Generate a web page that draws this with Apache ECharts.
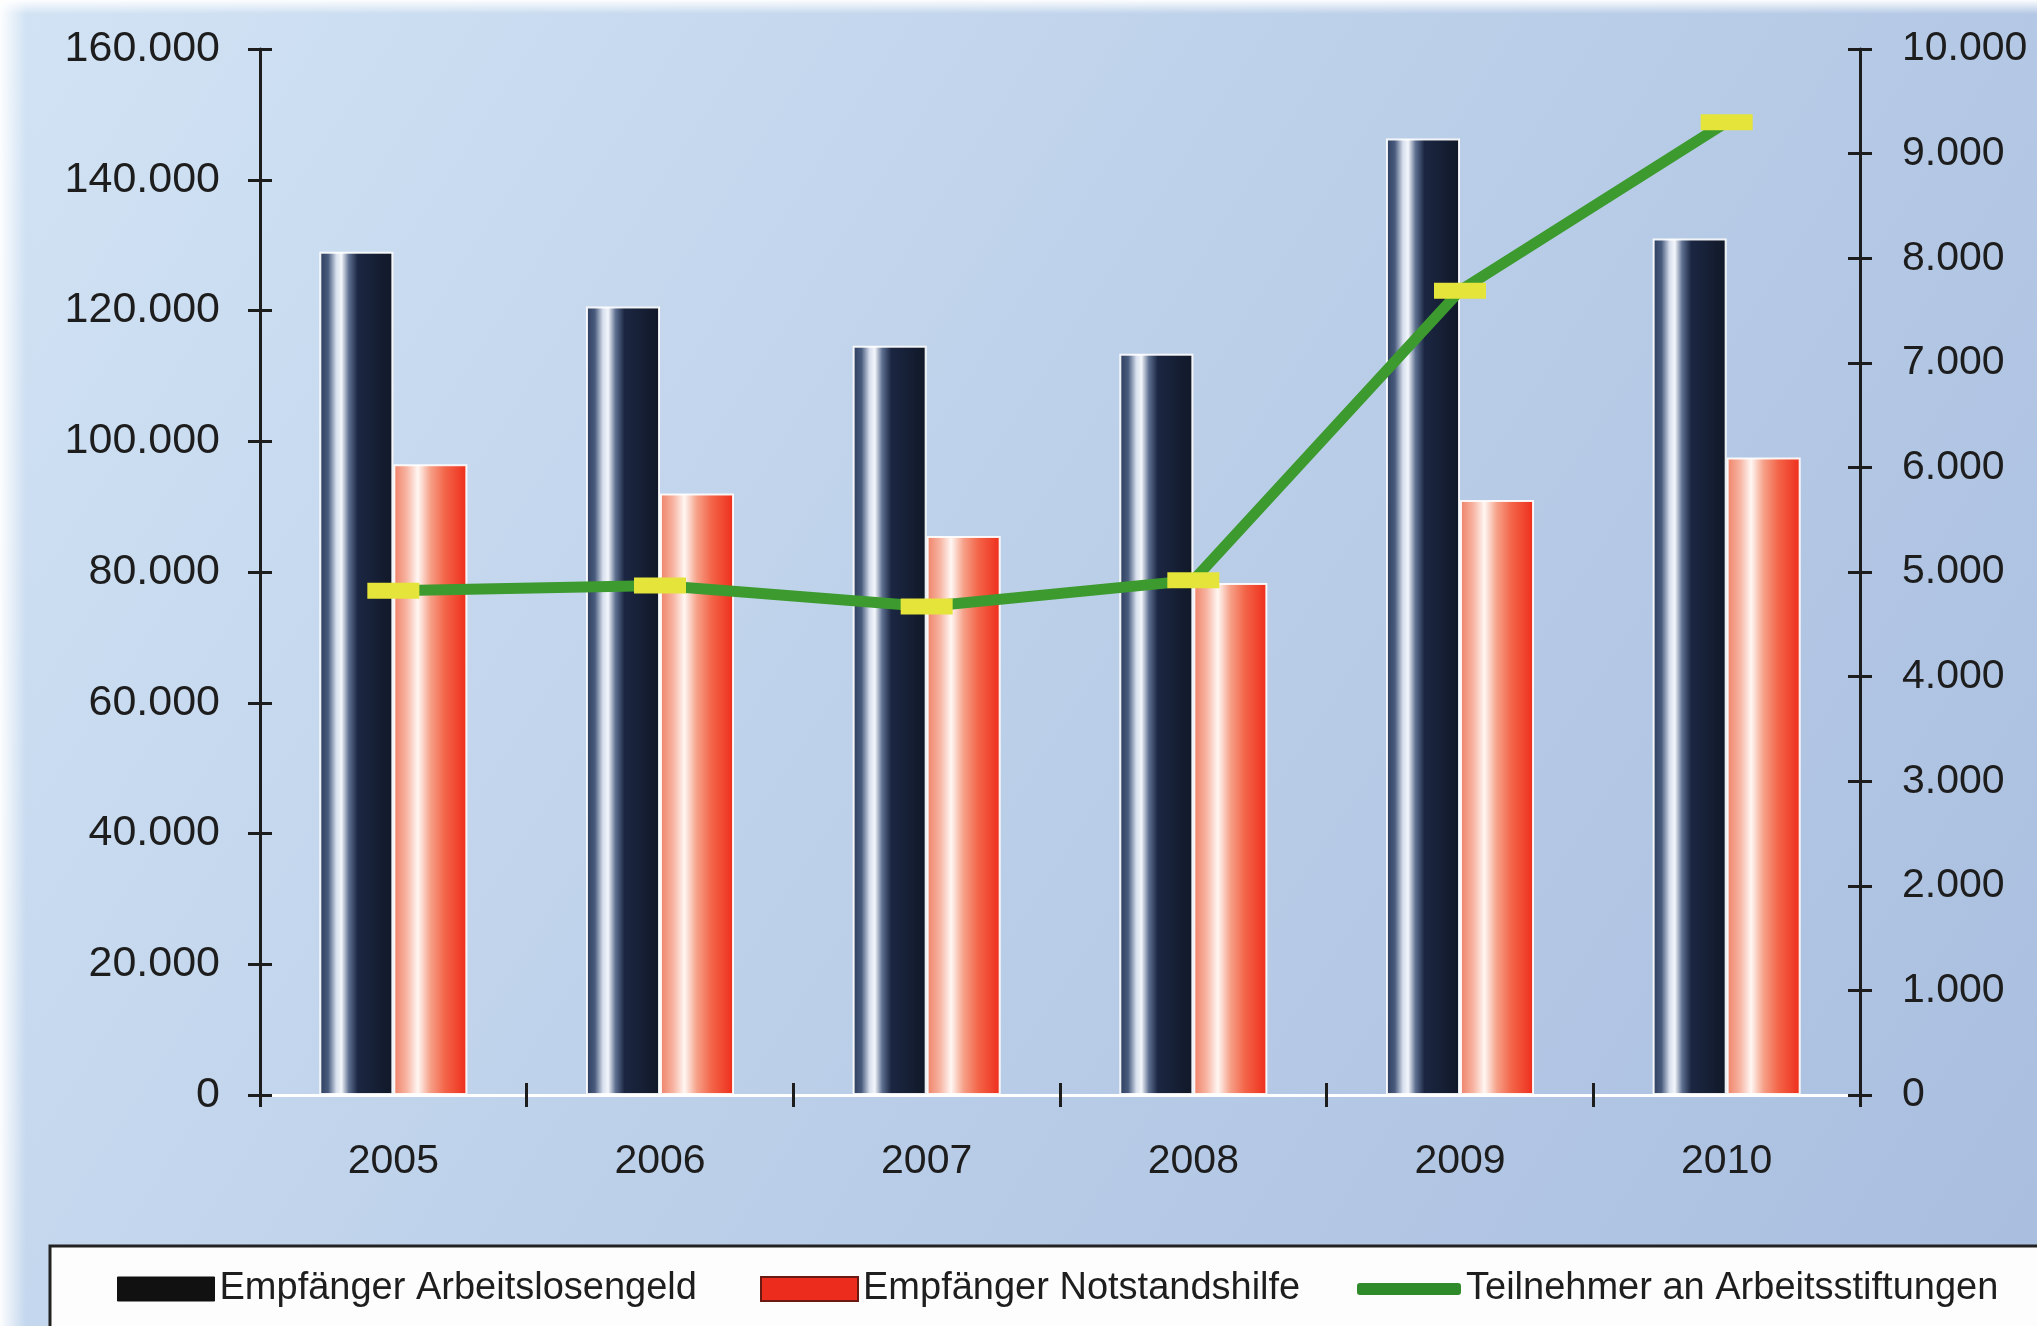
<!DOCTYPE html>
<html>
<head>
<meta charset="utf-8">
<script src="https://cdn.jsdelivr.net/npm/echarts@6/dist/echarts.min.js"></script>
<style>
  html, body { margin: 0; padding: 0; background: #fff; }
  #chart { width: 2037px; height: 1326px; }
</style>
</head>
<body>
<div id="chart"></div>
<script>
// Jahre
const years = ['2005', '2006', '2007', '2008', '2009', '2010'];

// Empfänger Arbeitslosengeld (linke Achse)
const arbeitslosengeld = [129000, 120600, 114600, 113400, 146300, 131000];

// Empfänger Notstandshilfe (linke Achse)
const notstandshilfe = [96500, 92000, 85500, 78300, 91000, 97500];

// Teilnehmer an Arbeitsstiftungen (rechte Achse)
const stiftungen = [4820, 4870, 4670, 4920, 7690, 9300];

const seriesNames = [
  'Empfänger Arbeitslosengeld',
  'Empfänger Notstandshilfe',
  'Teilnehmer an Arbeitsstiftungen'
];

// Tausenderpunkt
function fmt(v) {
  return String(v).replace(/\B(?=(\d{3})+(?!\d))/g, '.');
}

const FONT = 'Liberation Sans, Arial, sans-serif';
const INK = '#1d1d1d';

const chart = echarts.init(document.getElementById('chart'), null, { renderer: 'canvas' });

const grad = echarts.graphic.LinearGradient;

// zylindrische Säulen: heller Streifen links der Mitte
const darkFill = new grad(0, 0, 1, 0, [
  { offset: 0.00, color: '#2a3b5c' },
  { offset: 0.12, color: '#4a5c7e' },
  { offset: 0.23, color: '#d8e0ee' },
  { offset: 0.30, color: '#f3f6fb' },
  { offset: 0.40, color: '#5d6f90' },
  { offset: 0.52, color: '#1b2642' },
  { offset: 1.00, color: '#101827' }
]);

const redFill = new grad(0, 0, 1, 0, [
  { offset: 0.00, color: '#ef8066' },
  { offset: 0.18, color: '#f7b4a2' },
  { offset: 0.33, color: '#fff7f3' },
  { offset: 0.50, color: '#f6a088' },
  { offset: 0.70, color: '#f36448' },
  { offset: 1.00, color: '#ee2c1a' }
]);

const tickAxisCommon = {
  axisLine: { show: false },
  axisLabel: { show: false },
  splitLine: { show: false },
  axisTick: { show: true, inside: true, length: 12, lineStyle: { color: INK, width: 3 } }
};

const option = {
  backgroundColor: new grad(0, 0, 1, 1, [
    { offset: 0, color: '#d2e3f4' },
    { offset: 0.45, color: '#bdd1ea' },
    { offset: 1, color: '#a9bedf' }
  ]),
  animation: false,
  grid: { left: 260, right: 177, top: 49, bottom: 231, containLabel: false },
  legend: [
    {
      left: 117, top: 1270, padding: 0, itemWidth: 97, itemHeight: 24, itemGap: 0,
      selectedMode: false,
      textStyle: { fontFamily: FONT, fontSize: 38, color: '#1e1e1e' },
      data: [{ name: seriesNames[0], icon: 'rect', itemStyle: { color: '#111', borderColor: '#111', borderWidth: 1 } }]
    },
    {
      left: 760, top: 1270, padding: 0, itemWidth: 97, itemHeight: 24, itemGap: 0,
      selectedMode: false,
      textStyle: { fontFamily: FONT, fontSize: 38, color: '#1e1e1e' },
      data: [{ name: seriesNames[1], icon: 'rect', itemStyle: { color: '#ec2c1c', borderColor: '#6a1a12', borderWidth: 2 } }]
    },
    {
      left: 1357, top: 1270, padding: 0, itemWidth: 104, itemHeight: 12, itemGap: 0,
      selectedMode: false,
      textStyle: { fontFamily: FONT, fontSize: 38, color: '#1e1e1e' },
      data: [{ name: seriesNames[2], icon: 'roundRect', itemStyle: { color: '#2f8a2a' } }]
    }
  ],
  xAxis: [
    {
      type: 'category', data: years, position: 'bottom',
      axisLine: { show: true, lineStyle: { color: INK, width: 3 } },
      axisTick: { show: true, length: 12, lineStyle: { color: INK, width: 3 } },
      axisLabel: { fontFamily: FONT, fontSize: 41, color: INK, margin: 46 },
      splitLine: { show: false }
    },
    Object.assign({ type: 'category', data: years, position: 'bottom' }, tickAxisCommon),
    {
      type: 'category', data: years, position: 'top',
      axisLine: { show: true, lineStyle: { color: '#ffffff', width: 3 } },
      axisTick: { show: false }, axisLabel: { show: false }, splitLine: { show: false }
    }
  ],
  yAxis: [
    {
      type: 'value', position: 'left', min: 0, max: 160000, interval: 20000,
      axisLine: { show: true, lineStyle: { color: INK, width: 3 } },
      axisTick: { show: true, length: 12, lineStyle: { color: INK, width: 3 } },
      axisLabel: { fontFamily: FONT, fontSize: 43, color: INK, margin: 40, formatter: fmt },
      splitLine: { show: false }
    },
    {
      type: 'value', position: 'right', min: 0, max: 10000, interval: 1000,
      axisLine: { show: true, lineStyle: { color: INK, width: 3 } },
      axisTick: { show: true, length: 12, lineStyle: { color: INK, width: 3 } },
      axisLabel: { fontFamily: FONT, fontSize: 41, color: INK, margin: 42, formatter: fmt },
      splitLine: { show: false }
    },
    Object.assign({ type: 'value', position: 'left', min: 0, max: 160000, interval: 20000 }, tickAxisCommon),
    Object.assign({ type: 'value', position: 'right', min: 0, max: 10000, interval: 1000 }, tickAxisCommon)
  ],
  graphic: [
    // weißer Rand links und oben
    {
      type: 'rect', left: 0, top: 0, z: -1, silent: true,
      shape: { width: 26, height: 1326 },
      style: { fill: new grad(0, 0, 1, 0, [
        { offset: 0, color: 'rgba(255,255,255,0.95)' },
        { offset: 1, color: 'rgba(255,255,255,0)' }
      ]) }
    },
    {
      type: 'rect', left: 0, top: 0, z: -1, silent: true,
      shape: { width: 2037, height: 14 },
      style: { fill: new grad(0, 0, 0, 1, [
        { offset: 0, color: 'rgba(255,255,255,0.95)' },
        { offset: 1, color: 'rgba(255,255,255,0)' }
      ]) }
    },
    // Legendenkasten
    {
      type: 'rect', z: 0, silent: true,
      shape: { x: 50, y: 1246, width: 2100, height: 200 },
      style: { fill: '#fdfdfd', stroke: '#222', lineWidth: 3 }
    }
  ],
  series: [
    {
      name: seriesNames[0], type: 'bar', xAxisIndex: 0, yAxisIndex: 0,
      data: arbeitslosengeld, barWidth: 74, barGap: '0%',
      itemStyle: { color: darkFill, borderColor: 'rgba(255,255,255,0.9)', borderWidth: 2 }
    },
    {
      name: seriesNames[1], type: 'bar', xAxisIndex: 0, yAxisIndex: 0,
      data: notstandshilfe, barWidth: 74, barGap: '0%',
      itemStyle: { color: redFill, borderColor: 'rgba(255,255,255,0.9)', borderWidth: 2 }
    },
    {
      name: seriesNames[2], type: 'line', xAxisIndex: 0, yAxisIndex: 1,
      data: stiftungen, z: 5,
      lineStyle: { color: '#3d9a2f', width: 11 },
      symbol: 'rect', symbolSize: [52, 16], showAllSymbol: true,
      itemStyle: { color: '#e4e43a', borderWidth: 0 }
    }
  ]
};

chart.setOption(option);
</script>
</body>
</html>
